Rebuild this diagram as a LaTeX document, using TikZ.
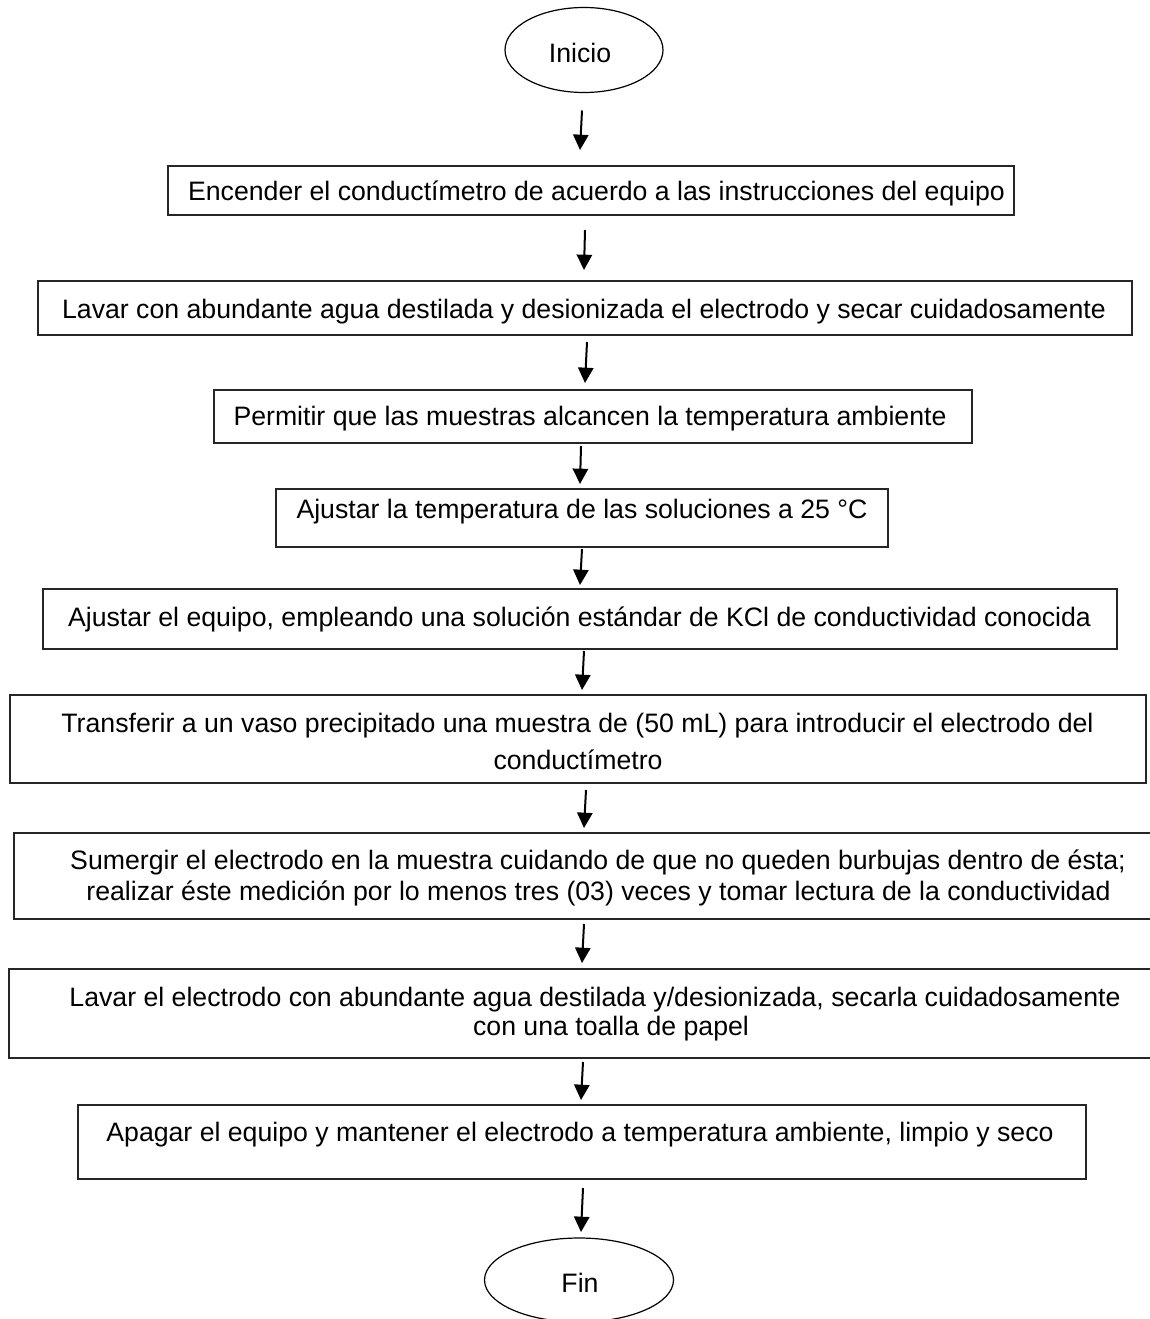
\documentclass[tikz,border=0pt]{standalone}
\usepackage{fontspec}
\setmainfont{Liberation Sans}
\usetikzlibrary{calc,arrows.meta,shapes.geometric}
\begin{document}
\begin{tikzpicture}[x=0.75pt,y=-0.75pt,
  box/.style={draw=black!85,line width=1pt,inner sep=0pt,outer sep=0pt},
  term/.style={ellipse,draw=black,line width=0.9pt,inner sep=0pt,outer sep=0pt},
  txt/.style={anchor=base,inner sep=0pt,font=\fontsize{20}{24}\selectfont},
  arr/.style={line width=1.5pt,-{Triangle[length=11.5pt,width=11.5pt]}}]
\useasboundingbox (0,0) rectangle (1149,1319);
% terminals
\node[term,minimum width=158*0.75pt,minimum height=85*0.75pt] (ini) at (584,50) {};
\node[txt] (tini) at (580,63) {Inicio};
\node[term,minimum width=189*0.75pt,minimum height=84*0.75pt] (fin) at (579,1280) {};
\node[txt] (tfin) at (580,1292) {Fin};
% boxes
\node[box,minimum width=846*0.75pt,minimum height=49*0.75pt] (b1) at (591,190.5) {};
\node[box,minimum width=1094*0.75pt,minimum height=54*0.75pt] (b2) at (585,308) {};
\node[box,minimum width=758*0.75pt,minimum height=53*0.75pt] (b3) at (593,416.5) {};
\node[box,minimum width=612*0.75pt,minimum height=58*0.75pt] (b4) at (582,518) {};
\node[box,minimum width=1074*0.75pt,minimum height=60*0.75pt] (b5) at (580,619) {};
\node[box,minimum width=1136*0.75pt,minimum height=88*0.75pt] (b6) at (578,739) {};
\node[box,minimum width=1168*0.75pt,minimum height=86*0.75pt] (b7) at (598,876) {};
\node[box,minimum width=1176*0.75pt,minimum height=89*0.75pt] (b8) at (597,1013.5) {};
\node[box,minimum width=1008*0.75pt,minimum height=74*0.75pt] (b9) at (582,1142) {};
% texts
\node[txt] (t1) at (596.5,201) {Encender el conductímetro de acuerdo a las instrucciones del equipo};
\node[txt] (t2) at (584,318) {Lavar con abundante agua destilada y desionizada el electrodo y secar cuidadosamente};
\node[txt] (t3) at (590,425) {Permitir que las muestras alcancen la temperatura ambiente};
\node[txt] (t4) at (582,518) {Ajustar la temperatura de las soluciones a 25 °C};
\node[txt] (t5) at (579.5,626) {Ajustar el equipo, empleando una solución estándar de KCl de conductividad conocida};
\node[txt] (t6a) at (577.5,732) {Transferir a un vaso precipitado una muestra de (50 mL) para introducir el electrodo del};
\node[txt] (t6b) at (578,769) {conductímetro};
\node[txt] (t7a) at (598,869) {Sumergir el electrodo en la muestra cuidando de que no queden burbujas dentro de ésta;};
\node[txt] (t7b) at (598.5,900) {realizar éste medición por lo menos tres (03) veces y tomar lectura de la conductividad};
\node[txt] (t8a) at (595,1006) {Lavar el electrodo con abundante agua destilada y/desionizada, secarla cuidadosamente};
\node[txt] (t8b) at (611,1035) {con una toalla de papel};
\node[txt] (t9) at (580,1141) {Apagar el equipo y mantener el electrodo a temperatura ambiente, limpio y seco};
% arrows
\draw[arr] ($(ini.south)+(582-584,18)$) -- ($(b1.north)+(580-591,-16)$);
\draw[arr] ($(b1.south)+(585-591,15)$) -- ($(b2.north)+(584-585,-11)$);
\draw[arr] ($(b2.south)+(587-585,7)$) -- ($(b3.north)+(585-593,-7)$);
\draw[arr] ($(b3.south)+(581-593,3)$) -- ($(b4.north)+(580-582,-5)$);
\draw[arr] ($(b4.south)+(582-582,2)$) -- ($(b5.north)+(580-580,-4)$);
\draw[arr] ($(b5.south)+(584-580,2)$) -- ($(b6.north)+(582-578,-5)$);
\draw[arr] ($(b6.south)+(586-578,7)$) -- ($(b7.north)+(584-598,-5)$);
\draw[arr] ($(b7.south)+(584-598,5)$) -- ($(b8.north)+(582-597,-6)$);
\draw[arr] ($(b8.south)+(583-597,4)$) -- ($(b9.north)+(581-582,-5)$);
\draw[arr] ($(b9.south)+(583-582,9)$) -- ($(fin.north)+(581-579,-6)$);
\end{tikzpicture}
\end{document}
